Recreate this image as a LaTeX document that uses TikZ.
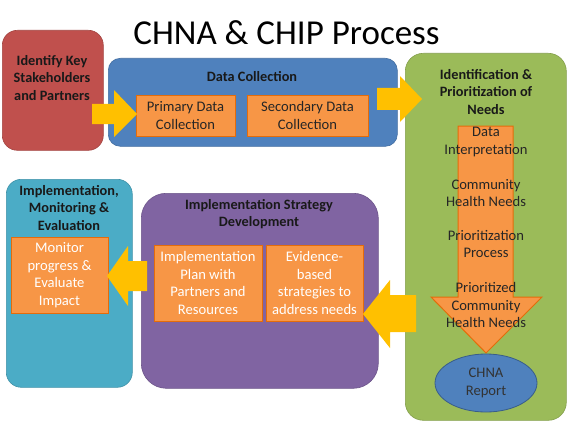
\documentclass[tikz,border=0pt]{standalone}
\usepackage{fontspec}
\setmainfont{Carlito}
\usetikzlibrary{shapes.geometric}
\definecolor{cred}{HTML}{C0504D}
\definecolor{cblue}{HTML}{4F81BD}
\definecolor{cblueD}{HTML}{385D8A}
\definecolor{cgreen}{HTML}{9BBB59}
\definecolor{ccyan}{HTML}{4BACC6}
\definecolor{cpurple}{HTML}{8064A2}
\definecolor{corange}{HTML}{F79646}
\definecolor{corangeD}{HTML}{E46C0A}
\definecolor{cyellow}{HTML}{FFC000}
\tikzset{
  bigbox/.style={anchor=north west, inner sep=0pt, draw=#1!85!black, line width=0.6pt, fill=#1},
  subbox/.style={anchor=north west, inner sep=0pt, draw=corangeD, line width=1pt, fill=corange},
  ttl/.style={font=\fontsize{14.3}{17.5}\selectfont\bfseries, align=center, text=black!90},
  txt/.style={font=\fontsize{14.6}{17.5}\selectfont, align=center, text=black!85},
  wtxt/.style={font=\fontsize{14.6}{17.5}\selectfont, align=center, text=white},
  yarrow/.style={fill=cyellow},
}
\begin{document}
\begin{tikzpicture}[x=1pt,y=-1pt]
\useasboundingbox[fill=white] (0,0) rectangle (572,425);
% title
\node[anchor=base, font=\fontsize{35}{40}\selectfont] (title) at (286.5,45) {CHNA \& CHIP Process};
% red
\node[bigbox=cred, rounded corners=15pt, minimum width=101pt, minimum height=120pt] (red) at (2,30) {};
\node[ttl] (redt) at (52,78) {Identify Key\\Stakeholders\\and Partners};
% blue
\node[bigbox=cblue, rounded corners=12pt, minimum width=289pt, minimum height=88pt] (blue) at (108,58) {};
\node[ttl] (bluet) at (252,77) {Data Collection};
\node[subbox, minimum width=99pt, minimum height=41pt] (prim) at (136,95) {};
\node[txt] (primt) at (185.5,115.5) {Primary Data\\Collection};
\node[subbox, minimum width=121pt, minimum height=41pt] (sec) at (247,95) {};
\node[txt] (sect) at (307.5,115.5) {Secondary Data\\Collection};
% green
\node[bigbox=cgreen, rounded corners=18pt, minimum width=161pt, minimum height=367pt] (green) at (405,53) {};
\node[ttl] (greent) at (486,92) {Identification \&\\Prioritization of\\Needs};
\draw[fill=corange, draw=corangeD, line width=1pt] (458,126) -- (513,126) -- (513,297) -- (542,297) -- (486,353) -- (431,297) -- (458,297) -- cycle;
\node[txt] (g1) at (486,142) {Data\\Interpretation};
\node[txt] (g2) at (486,193) {Community\\Health Needs};
\node[txt] (g3) at (486,244) {Prioritization\\Process};
\node[txt] (g4) at (486,305) {Prioritized\\Community\\Health Needs};
\node[ellipse, draw=cblueD, line width=0.8pt, fill=cblue, minimum width=102pt, minimum height=58pt, inner sep=0pt] (rep) at (486,383) {};
\node[txt, text=black!80] (rept) at (486,383) {CHNA\\Report};
% cyan
\node[bigbox=ccyan, rounded corners=15pt, minimum width=126pt, minimum height=208pt] (cyan) at (6,179) {};
\node[ttl] (cyant) at (69,208) {Implementation,\\Monitoring \&\\Evaluation};
\node[subbox, minimum width=97pt, minimum height=76pt] (mon) at (11,237) {};
\node[wtxt] (mont) at (59.5,275) {Monitor\\progress \&\\Evaluate\\Impact};
% purple
\node[bigbox=cpurple, rounded corners=25pt, minimum width=237pt, minimum height=195pt] (purp) at (141,193) {};
\node[ttl] (purpt) at (259,214) {Implementation Strategy\\Development};
\node[subbox, minimum width=108pt, minimum height=76pt] (plan) at (154,245) {};
\node[wtxt] (plant) at (208,283) {Implementation\\Plan with\\Partners and\\Resources};
\node[subbox, minimum width=97pt, minimum height=76pt] (evid) at (266,245) {};
\node[wtxt] (evidt) at (314.5,283) {Evidence-\\based\\strategies to\\address needs};
% yellow block arrows
\fill[yarrow] (92,104) -- (114,104) -- (114,90) -- (137,114) -- (114,137) -- (114,124) -- (92,124) -- cycle;
\fill[yarrow] (377,88) -- (400,88) -- (400,76) -- (422,99) -- (400,122) -- (400,110) -- (377,110) -- cycle;
\fill[yarrow] (416,295) -- (390,295) -- (390,280) -- (363,314) -- (390,348) -- (390,332) -- (416,332) -- cycle;
\fill[yarrow] (147,261) -- (128,261) -- (128,246) -- (107,276) -- (128,306) -- (128,291) -- (147,291) -- cycle;
\end{tikzpicture}
\end{document}
